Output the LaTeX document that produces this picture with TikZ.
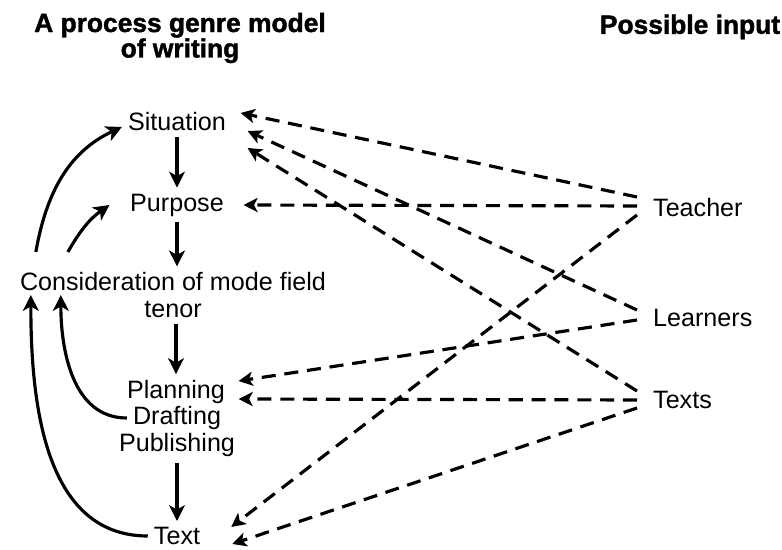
\documentclass[tikz,border=0pt]{standalone}
\usepackage{fontspec}
\setmainfont{Liberation Sans}
\newfontface\headfont{Liberation Sans Bold}[FakeBold=1.6]
\usetikzlibrary{arrows.meta}
\tikzset{
  pg/head/.style={font=\fontsize{15}{14.5}\selectfont\headfont, align=center},
  pg/stage/.style={font=\fontsize{14.3}{15}\selectfont, align=center},
  pg/input/.style={font=\fontsize{14.3}{15}\selectfont, anchor=west,
    inner xsep=9pt},
  pg/flow/.style={-{Stealth[length=9pt,width=9pt,inset=2.5pt]},
    line width=1.8pt},
  pg/link/.style={-{Stealth[length=8pt,width=8pt,inset=2pt]},
    line width=1.8pt, dash pattern=on 8pt off 5pt}
}
\begin{document}
\begin{tikzpicture}[x=1cm, y=1cm]
  \useasboundingbox (0,0) rectangle (15.64,11);

  % Cabeceras
  \node[pg/head] at (3.6, 10.24) (hmodel) {A process genre model\\of writing};
  \node[pg/head] at (13.8, 10.46) (hinput) {Possible input};

  % Etapas del modelo (columna izquierda)
  \node[pg/stage] at (3.54, 8.56) (sit)   {Situation};
  \node[pg/stage] at (3.54, 6.90) (purp)  {Purpose};
  \node[pg/stage] at (3.46, 5.10) (cons)  {Consideration of mode field\\tenor};
  \node[pg/stage] at (3.52, 3.16) (plan)  {Planning};
  \node[pg/stage] at (3.54, 2.64) (draft) {Drafting};
  \node[pg/stage] at (3.54, 2.10) (publ)  {Publishing};
  \node[pg/stage] at (3.54, 0.28) (txt)   {Text};

  % Fuentes de input (columna derecha)
  \node[pg/input] at (12.74, 6.84) (teacher)  {Teacher};
  \node[pg/input] at (12.74, 4.64) (learners) {Learners};
  \node[pg/input] at (12.74, 3.00) (texts)    {Texts};

  % --- Flujo principal ---
  \draw[pg/flow] (sit.south) -- (purp.north);
  \draw[pg/flow] (purp.south) -- (purp.south |- cons.north);
  \draw[pg/flow] (plan.north |- cons.south) -- (plan.north);
  \draw[pg/flow] (publ.south) -- (txt.north);

  % Retornos hacia arriba
  \draw[pg/flow] ([xshift=0.44cm, yshift=0.86cm]cons.west)
        to[out=80, in=205] ([yshift=-0.1cm]sit.west);
  \draw[pg/flow] ([xshift=1.08cm, yshift=0.86cm]cons.west)
        to[out=60, in=215] ([xshift=-0.29cm]purp.west);
  \draw[pg/flow] (txt.west) to[out=180, in=-90] ([xshift=0.34cm]cons.west);
  \draw[pg/flow] (draft.west) to[out=180, in=-90] ([xshift=0.94cm]cons.west);

  % --- Input: Teacher ---
  \draw[pg/link] ([yshift=0.22cm]teacher.west)
        -- ([xshift=0.17cm, yshift=0.18cm]sit.east);
  \draw[pg/link] ([yshift=0.04cm]teacher.west) -- ([xshift=0.27cm]purp.east);
  \draw[pg/link] ([yshift=-0.14cm]teacher.west)
        -- ([xshift=0.5cm, yshift=0.18cm]txt.east);

  % --- Input: Learners ---
  \draw[pg/link] ([yshift=0.16cm]learners.west)
        -- ([xshift=0.31cm, yshift=-0.18cm]sit.east);
  \draw[pg/link] ([yshift=-0.04cm]learners.west)
        -- ([xshift=0.15cm, yshift=0.22cm]plan.east);

  % --- Input: Texts ---
  \draw[pg/link] ([yshift=0.18cm]texts.west)
        -- ([xshift=0.31cm, yshift=-0.52cm]sit.east);
  \draw[pg/link] (texts.west) -- ([xshift=0.15cm, yshift=-0.14cm]plan.east);
  \draw[pg/link] ([yshift=-0.16cm]texts.west)
        -- ([xshift=0.52cm, yshift=-0.16cm]txt.east);
\end{tikzpicture}
\end{document}
